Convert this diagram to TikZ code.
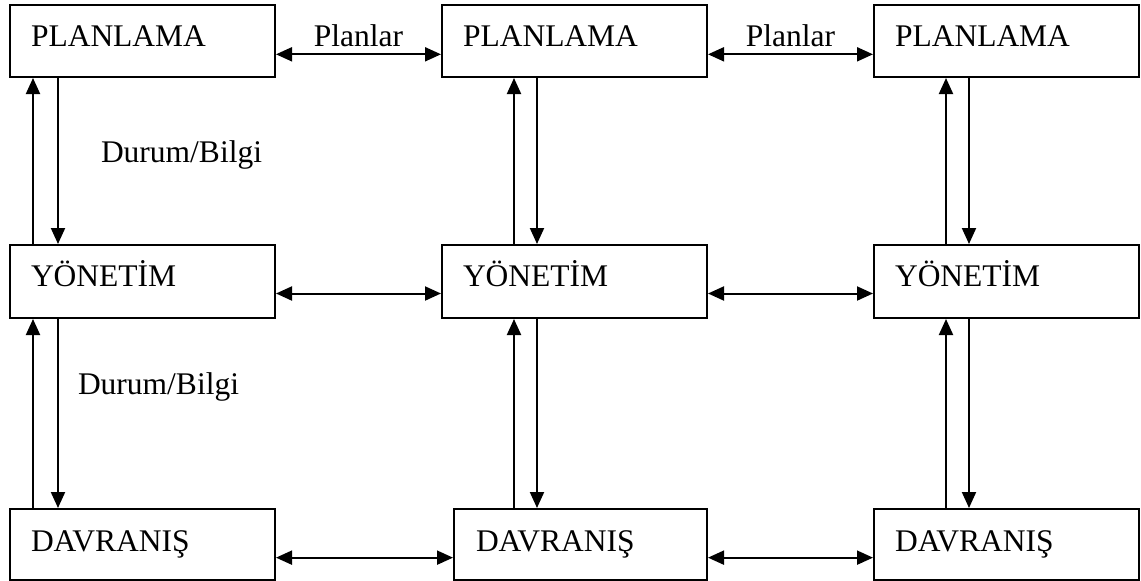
\documentclass[tikz,border=0pt]{standalone}
\usepackage{fontspec}
\setmainfont{Liberation Serif}
\usetikzlibrary{arrows.meta,calc}

\begin{document}
\begin{tikzpicture}[x=1pt,y=-1pt,
  box/.style={draw, line width=2pt, rectangle, anchor=north west, align=left,
    inner xsep=21pt, inner ysep=0pt, text height=21pt,
    font=\fontsize{31.5}{36}\selectfont},
  toprow/.style={box, text width=223pt, minimum height=72pt, text depth=11pt},
  midrow/.style={box, text width=223pt, minimum height=73pt, text depth=12pt},
  botrow/.style={box, text width=223pt, minimum height=71pt, text depth=8pt},
  tip/.tip={Triangle[length=16pt,width=14pt]},
  link/.style={line width=2pt},
  one/.style={link, -tip},
  both/.style={link, tip-tip},
  lbl/.style={inner sep=0pt, font=\fontsize{31.5}{36}\selectfont}
]
\useasboundingbox (0,0) rectangle (1141,581);

% three layers, three columns
\node[toprow] (p1) at (9,4)   {PLANLAMA};
\node[toprow] (p2) at (441,4) {PLANLAMA};
\node[toprow] (p3) at (873,4) {PLANLAMA};

\node[midrow] (m1) at (9,244)   {YÖNETİM};
\node[midrow] (m2) at (441,244) {YÖNETİM};
\node[midrow] (m3) at (873,244) {YÖNETİM};

\node[botrow] (b1) at (9,508) {DAVRANIŞ};
\node[botrow, text width=209pt, inner xsep=22pt] (b2) at (453,508) {DAVRANIŞ};
\node[botrow] (b3) at (873,508) {DAVRANIŞ};

% vertical line positions in each column
\coordinate (u1) at ($(p1.south west)+(24,0)$);
\coordinate (d1) at ($(p1.south west)+(49,0)$);
\coordinate (u2) at ($(p2.south west)+(73,0)$);
\coordinate (d2) at ($(p2.south west)+(96,0)$);
\coordinate (u3) at ($(p3.south west)+(73,0)$);
\coordinate (d3) at ($(p3.south west)+(96,0)$);

% upward and downward flows between layers
\draw[one] (u1 |- m1.north) -- (u1 |- p1.south);
\draw[one] (d1 |- p1.south) -- node[lbl, pos=0.51, anchor=base west, xshift=42pt] {Durum/Bilgi} (d1 |- m1.north);
\draw[one] (u1 |- b1.north) -- (u1 |- m1.south);
\draw[one] (d1 |- m1.south) -- node[lbl, pos=0.40, anchor=base west, xshift=19pt] {Durum/Bilgi} (d1 |- b1.north);

\draw[one] (u2 |- m2.north) -- (u2 |- p2.south);
\draw[one] (d2 |- p2.south) -- (d2 |- m2.north);
\draw[one] (u2 |- b2.north) -- (u2 |- m2.south);
\draw[one] (d2 |- m2.south) -- (d2 |- b2.north);

\draw[one] (u3 |- m3.north) -- (u3 |- p3.south);
\draw[one] (d3 |- p3.south) -- (d3 |- m3.north);
\draw[one] (u3 |- b3.north) -- (u3 |- m3.south);
\draw[one] (d3 |- m3.south) -- (d3 |- b3.north);

% exchanges within each layer
\draw[both] ($(p1.north east)!0.68!(p1.south east)$) -- node[lbl, midway, anchor=base, yshift=8pt] {Planlar} ($(p2.north west)!0.68!(p2.south west)$);
\draw[both] ($(p2.north east)!0.68!(p2.south east)$) -- node[lbl, midway, anchor=base, yshift=8pt] {Planlar} ($(p3.north west)!0.68!(p3.south west)$);

\draw[both] ($(m1.north east)!0.66!(m1.south east)$) -- ($(m2.north west)!0.66!(m2.south west)$);
\draw[both] ($(m2.north east)!0.66!(m2.south east)$) -- ($(m3.north west)!0.66!(m3.south west)$);

\draw[both] ($(b1.north east)!0.68!(b1.south east)$) -- ($(b2.north west)!0.68!(b2.south west)$);
\draw[both] ($(b2.north east)!0.68!(b2.south east)$) -- ($(b3.north west)!0.68!(b3.south west)$);
\end{tikzpicture}
\end{document}
